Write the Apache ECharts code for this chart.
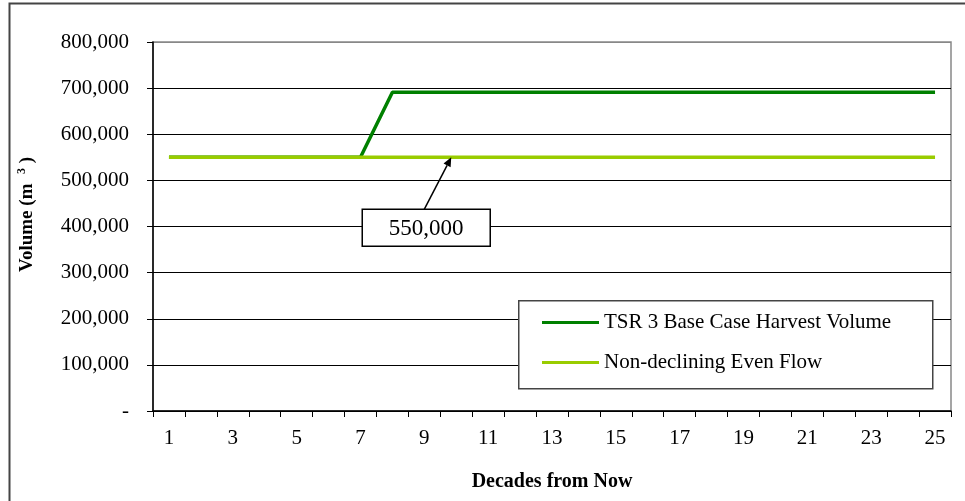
<!DOCTYPE html>
<html>
<head>
<meta charset="utf-8">
<script src="https://cdn.jsdelivr.net/npm/echarts@6/dist/echarts.min.js"></script>
<style>
html,body{margin:0;padding:0;background:#fff;}
#c{width:965px;height:501px;}
</style>
</head>
<body>
<div id="c"></div>
<script>
var decades = ['1','2','3','4','5','6','7','8','9','10','11','12','13','14','15','16','17','18','19','20','21','22','23','24','25'];
var tsrBaseCase = [550000,550000,550000,550000,550000,550000,550000,691000,691000,691000,691000,691000,691000,691000,691000,691000,691000,691000,691000,691000,691000,691000,691000,691000,691000];
var evenFlow = [550000,550000,550000,550000,550000,550000,550000,550000,550000,550000,550000,550000,550000,550000,550000,550000,550000,550000,550000,550000,550000,550000,550000,550000,550000];
var seriesNames = ['TSR 3 Base Case Harvest Volume', 'Non-declining Even Flow'];
var annotationText = '550,000';
var annotationValue = 550000;
var annotationIndex = 9;

var FONT = '"Liberation Serif", "Times New Roman", serif';
var chart = echarts.init(document.getElementById('c'), null, {renderer: 'canvas'});

function fmt(v) {
  if (v === 0) return '-';
  return v.toString().replace(/\B(?=(\d{3})+(?!\d))/g, ',');
}

var gridLineColors = ['#000','#000','#000','#000','#000','#000','#000','#000','#888'];

var option = {
  animation: false,
  backgroundColor: '#fff',
  grid: {left: 153, right: 14, top: 42, bottom: 90, show: true, borderColor: '#888', borderWidth: 1.5,
         containLabel: false, outerBoundsMode: 'none'},
  legend: {
    orient: 'vertical',
    left: 537, top: 307,
    itemWidth: 57, itemHeight: 3, itemGap: 19,
    icon: 'rect',
    z: 6,
    textStyle: {fontFamily: FONT, fontSize: 21, color: '#000'},
    data: seriesNames
  },
  xAxis: {
    type: 'category',
    data: decades,
    boundaryGap: true,
    name: 'Decades from Now',
    nameLocation: 'middle',
    nameGap: 61,
    nameTextStyle: {fontFamily: FONT, fontSize: 20, fontWeight: 'bold', color: '#000'},
    axisLine: {lineStyle: {color: '#000', width: 1.5}},
    axisTick: {show: true, interval: 0, length: 6, inside: false, lineStyle: {color: '#000', width: 1}},
    axisLabel: {interval: 1, fontFamily: FONT, fontSize: 21, color: '#000', margin: 17},
    splitLine: {show: false}
  },
  yAxis: {
    type: 'value',
    min: 0, max: 800000, interval: 100000,
    name: '{a|Volume (m  }{s|3}{a| )}',
    nameLocation: 'middle',
    nameGap: 114,
    nameRotate: 90,
    nameTextStyle: {
      padding: [0, 0, 0, 24],
      rich: {
        a: {fontFamily: FONT, fontSize: 19, fontWeight: 'bold', color: '#000', lineHeight: 23},
        s: {fontFamily: FONT, fontSize: 12, fontWeight: 'bold', color: '#000', lineHeight: 23, verticalAlign: 'top', padding: [0,0,10,0]}
      }
    },
    axisLine: {show: true, lineStyle: {color: '#000', width: 1.5}},
    axisTick: {show: true, length: 6, lineStyle: {color: '#000', width: 1}},
    axisLabel: {fontFamily: FONT, fontSize: 21, color: '#000', margin: 24, formatter: fmt},
    splitLine: {show: true, lineStyle: {color: gridLineColors, width: 1}}
  },
  series: [
    {name: seriesNames[0], type: 'line', data: tsrBaseCase, symbol: 'none', z: 2,
     lineStyle: {color: '#008000', width: 3.5}, itemStyle: {color: '#008000'}},
    {name: seriesNames[1], type: 'line', data: evenFlow, symbol: 'none', z: 3,
     lineStyle: {color: '#99CC00', width: 3.5}, itemStyle: {color: '#99CC00'}}
  ]
};
chart.setOption(option);

var tip = chart.convertToPixel({gridIndex: 0}, [annotationIndex, annotationValue]);
tip = [tip[0] - 5, tip[1]];
var boxW = 128, boxH = 37;
var boxLeft = tip[0] - 89, boxTop = tip[1] + 52;
var tail = [boxLeft + 62, boxTop];
var ang = Math.atan2(tip[1] - tail[1], tip[0] - tail[0]);
var ah = 9, aw = 4;
var bx = tip[0] - ah * Math.cos(ang), by = tip[1] - ah * Math.sin(ang);
var px = -Math.sin(ang) * aw, py = Math.cos(ang) * aw;

chart.setOption({
  graphic: [
    {type: 'rect', left: 7, top: 1, shape: {width: 1000, height: 600},
     style: {fill: 'none', stroke: '#444', lineWidth: 2}, silent: true, z: 0},
    {type: 'rect', left: 518, top: 300, shape: {width: 414, height: 88},
     style: {fill: '#fff', stroke: '#444', lineWidth: 1.5}, z: 4},
    {type: 'line', shape: {x1: tail[0], y1: tail[1], x2: bx, y2: by},
     style: {stroke: '#000', lineWidth: 1.5}, z: 10},
    {type: 'polygon', shape: {points: [[tip[0], tip[1]], [bx + px, by + py], [bx - px, by - py]]},
     style: {fill: '#000'}, z: 10},
    {type: 'rect', position: [boxLeft, boxTop], shape: {width: boxW, height: boxH},
     style: {fill: '#fff', stroke: '#000', lineWidth: 1.5}, z: 10},
    {type: 'text', position: [boxLeft + boxW / 2, boxTop + boxH / 2 + 1],
     style: {text: annotationText, fontFamily: FONT, fontSize: 23, fill: '#000', align: 'center', verticalAlign: 'middle'}, z: 11}
  ]
});
</script>
</body>
</html>
